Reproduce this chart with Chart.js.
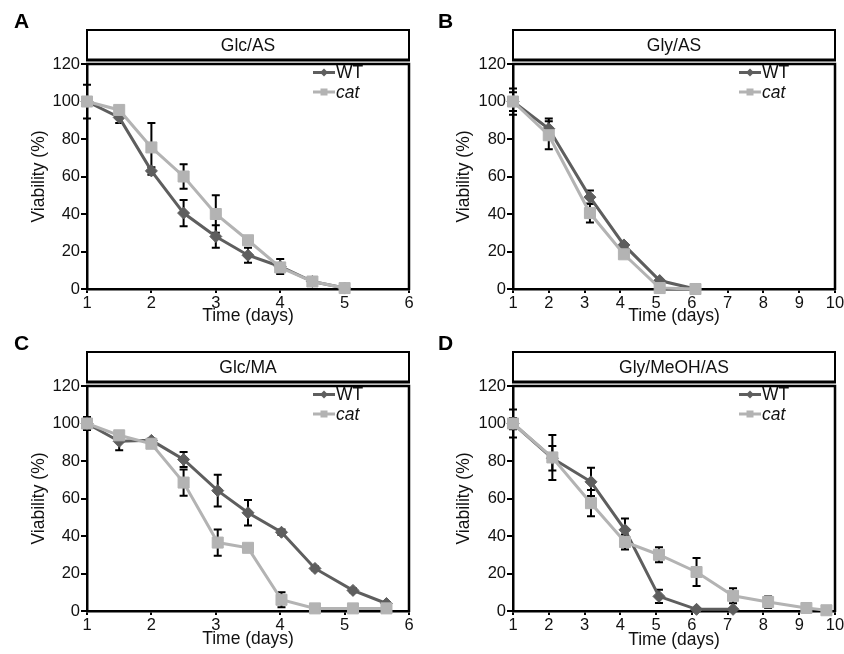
<!DOCTYPE html>
<html>
<head>
<meta charset="utf-8">
<script src="https://cdn.jsdelivr.net/npm/chart.js@4.4.1/dist/chart.umd.min.js"></script>
<style>
html,body{margin:0;padding:0;background:#fff;}
#wrap{position:relative;width:844px;height:654px;overflow:hidden;background:#fff;}
canvas{position:absolute;}
.lab{position:absolute;font:bold 21px "Liberation Sans",Arial,sans-serif;color:#000;line-height:21px;}
</style>
</head>
<body>
<div id="wrap">
  <canvas id="cA" width="422" height="327" style="left:0px;top:0px"></canvas>
  <canvas id="cB" width="422" height="327" style="left:422px;top:0px"></canvas>
  <canvas id="cC" width="422" height="327" style="left:0px;top:327px"></canvas>
  <canvas id="cD" width="422" height="327" style="left:422px;top:327px"></canvas>
  <div class="lab" style="left:14px;top:10px">A</div>
  <div class="lab" style="left:438px;top:10px">B</div>
  <div class="lab" style="left:14px;top:332px">C</div>
  <div class="lab" style="left:438px;top:332px">D</div>
</div>
<script>
// ---------- tick labels ----------
const yTicks = [0, 20, 40, 60, 80, 100, 120];
const xTicks6 = [1, 2, 3, 4, 5, 6];
const xTicks10 = [1, 2, 3, 4, 5, 6, 7, 8, 9, 10];
const seriesNames = ['WT', 'cat'];

// ---------- Panel A: Glc/AS ----------
const timeA = [1, 1.5, 2, 2.5, 3, 3.5, 4, 4.5, 5];
const wtA = [100, 91.5, 63, 40.5, 28, 18, 12, 4, 0.5];
const wtErrA = [9, 3, 2, 7, 6, 4, 4, 1, 0];
const catA = [100, 95.5, 75.5, 60, 40, 26, 11.5, 4, 0.5];
const catErrA = [2, 1.5, 13, 6.5, 10, 1.5, 1.5, 1, 0];

// ---------- Panel B: Gly/AS ----------
const timeB = [1, 2, 3.15, 4.1, 5.1, 6.1];
const wtB = [100, 85.5, 49, 23.5, 4.5, 0];
const wtErrB = [7, 5.5, 3.5, 1, 0.5, 0];
const catB = [100, 82, 40.5, 18.5, 0.5, 0];
const catErrB = [5, 7.5, 5, 1, 0.3, 0];

// ---------- Panel C: Glc/MA ----------
const timeC = [1, 1.5, 2, 2.5, 3.03, 3.5, 4.02, 4.54, 5.13, 5.65];
const wtC = [100, 90.5, 91, 80.8, 64.2, 52.4, 42, 22.7, 11, 4];
const wtErrC = [3.5, 4.7, 1, 4, 8.5, 6.8, 1.5, 1, 1, 0.5];
const catC = [100, 93.7, 89.2, 68.5, 36.5, 33.7, 6, 1.4, 1.4, 1.4];
const catErrC = [3, 2, 1.5, 7, 7, 1.5, 4, 0.5, 0.5, 0.5];

// ---------- Panel D: Gly/MeOH/AS ----------
const timeDwt = [1, 2.1, 3.18, 4.13, 5.08, 6.13, 7.15];
const wtD = [100, 81.5, 68.9, 43.3, 7.8, 0.9, 0.9];
const wtErrD = [7.5, 6.5, 7.5, 6, 3.5, 0.5, 0.5];
const timeDcat = [1, 2.1, 3.18, 4.13, 5.08, 6.13, 7.15, 8.13, 9.2, 9.76];
const catD = [100, 81.9, 57.5, 36.8, 30, 20.8, 8.1, 4.8, 1.6, 0.4];
const catErrD = [3, 12, 7, 4, 4, 7.5, 4, 3, 1, 0.5];

// ---------- styling ----------
const FONT = '"Liberation Sans", Arial, Helvetica, sans-serif';
const WT_COLOR = '#5e5e5e';
const CAT_COLOR = '#b3b3b3';
const TEXT = '#111';

const decoPlugin = {
  id: 'panelDeco',
  beforeDatasetsDraw(chart) {
    const ctx = chart.ctx, ys = chart.scales.y;
    ctx.save();
    ctx.strokeStyle = '#000';
    ctx.lineWidth = 2;
    chart.data.datasets.forEach((ds, di) => {
      const errs = ds.errorBars;
      if (!errs) return;
      const meta = chart.getDatasetMeta(di);
      meta.data.forEach((pt, i) => {
        const e = errs[i];
        if (!e || e < 0.8) return;
        const v = ds.data[i].y;
        const yT = ys.getPixelForValue(v + e);
        const yB = ys.getPixelForValue(Math.max(v - e, 0));
        const x = pt.x;
        ctx.beginPath();
        ctx.moveTo(x, yT); ctx.lineTo(x, yB);
        ctx.moveTo(x - 4, yT); ctx.lineTo(x + 4, yT);
        if (v - e > 0) { ctx.moveTo(x - 4, yB); ctx.lineTo(x + 4, yB); }
        ctx.stroke();
      });
    });
    ctx.restore();
  },
  afterDraw(chart, args, opts) {
    const ctx = chart.ctx, ca = chart.chartArea;
    ctx.save();
    ctx.strokeStyle = '#000';
    // plot frame top and right
    ctx.lineWidth = 2.5;
    ctx.beginPath();
    ctx.moveTo(ca.left - 1, ca.top);
    ctx.lineTo(ca.right, ca.top);
    ctx.lineTo(ca.right, ca.bottom + 1);
    ctx.stroke();
    // header strip
    const hTop = ca.top - 34, hBot = ca.top - 4;
    ctx.lineWidth = 2;
    ctx.beginPath();
    ctx.moveTo(ca.left, hBot + 1);
    ctx.lineTo(ca.left, hTop);
    ctx.lineTo(ca.right, hTop);
    ctx.lineTo(ca.right, hBot + 1);
    ctx.stroke();
    ctx.lineWidth = 3;
    ctx.beginPath();
    ctx.moveTo(ca.left - 1, hBot);
    ctx.lineTo(ca.right + 1, hBot);
    ctx.stroke();
    ctx.fillStyle = TEXT;
    ctx.font = '17.5px ' + FONT;
    ctx.textAlign = 'center';
    ctx.textBaseline = 'middle';
    ctx.fillText(opts.title, (ca.left + ca.right) / 2, (hTop + hBot) / 2 + 1);
    // legend
    const lx = ca.right - 96;
    chart.data.datasets.forEach((ds, k) => {
      const y = ca.top + 9.5 + k * 19.5;
      ctx.strokeStyle = ds.borderColor;
      ctx.lineWidth = 3;
      ctx.beginPath();
      ctx.moveTo(lx, y - 1);
      ctx.lineTo(lx + 22, y - 1);
      ctx.stroke();
      ctx.fillStyle = ds.borderColor;
      const cx = lx + 11, cy = y - 1;
      ctx.beginPath();
      if (ds.pointStyle === 'rectRot') {
        ctx.moveTo(cx, cy - 4); ctx.lineTo(cx + 4, cy); ctx.lineTo(cx, cy + 4); ctx.lineTo(cx - 4, cy);
      } else {
        ctx.rect(cx - 3.5, cy - 3.5, 7, 7);
      }
      ctx.closePath();
      ctx.fill();
      ctx.fillStyle = TEXT;
      ctx.textAlign = 'left';
      ctx.textBaseline = 'middle';
      ctx.font = (ds.label === 'cat' ? 'italic ' : '') + '17.5px ' + FONT;
      ctx.fillText(ds.label, lx + 23, y);
    });
    ctx.restore();
  }
};

function pts(xs, ys) { return xs.map((x, i) => ({ x: x, y: ys[i] })); }

function makePanel(id, cfg) {
  const g = cfg.geom;
  const W = 422, H = 327;
  new Chart(document.getElementById(id), {
    type: 'line',
    plugins: [decoPlugin],
    data: {
      datasets: [
        {
          label: seriesNames[0], data: pts(cfg.wtX, cfg.wt), errorBars: cfg.wtErr,
          borderColor: WT_COLOR, backgroundColor: WT_COLOR, borderWidth: 3,
          pointStyle: 'rectRot', pointRadius: 6, pointBorderWidth: 1,
          pointBackgroundColor: WT_COLOR, pointBorderColor: WT_COLOR,
          tension: 0, clip: false, order: 1
        },
        {
          label: seriesNames[1], data: pts(cfg.catX, cfg.cat), errorBars: cfg.catErr,
          borderColor: CAT_COLOR, backgroundColor: CAT_COLOR, borderWidth: 3,
          pointStyle: 'rect', pointRadius: 7.8, pointBorderWidth: 1,
          pointBackgroundColor: CAT_COLOR, pointBorderColor: CAT_COLOR,
          tension: 0, clip: false, order: 0
        }
      ]
    },
    options: {
      responsive: false,
      animation: false,
      devicePixelRatio: 1,
      layout: { padding: { left: 0, top: g.top, right: W - g.right, bottom: 0 } },
      plugins: {
        legend: { display: false },
        tooltip: { enabled: false },
        panelDeco: { title: cfg.title }
      },
      scales: {
        x: {
          type: 'linear', min: 1, max: cfg.xTicks[cfg.xTicks.length - 1],
          afterBuildTicks: (s) => { s.ticks = cfg.xTicks.map(v => ({ value: v })); },
          afterFit: (s) => { s.height = H - g.bottom; s.paddingLeft = 0; s.paddingRight = 0; },
          grid: { drawOnChartArea: false, drawTicks: true, tickLength: 4, color: '#000', lineWidth: 2 },
          border: { display: true, color: '#000', width: 2.5 },
          ticks: { color: TEXT, font: { family: FONT, size: 16.5 }, padding: 1, maxRotation: 0, autoSkip: false },
          title: { display: true, text: 'Time (days)', color: TEXT, font: { family: FONT, size: 17.5 }, padding: { top: 0, bottom: g.xTitlePad } }
        },
        y: {
          min: 0, max: 120,
          afterBuildTicks: (s) => { s.ticks = yTicks.map(v => ({ value: v })); },
          afterFit: (s) => { s.width = g.left; s.paddingTop = 0; s.paddingBottom = 0; },
          grid: { drawOnChartArea: false, drawTicks: true, tickLength: 6, color: '#000', lineWidth: 2 },
          border: { display: true, color: '#000', width: 2.5 },
          ticks: { color: TEXT, font: { family: FONT, size: 16.5 }, padding: 1 },
          title: { display: true, text: 'Viability (%)', color: TEXT, font: { family: FONT, size: 17.5 }, padding: { top: g.yTitlePad, bottom: 0 } }
        }
      }
    }
  });
}

makePanel('cA', { title: 'Glc/AS', xTicks: xTicks6, wtX: timeA, wt: wtA, wtErr: wtErrA, catX: timeA, cat: catA, catErr: catErrA,
  geom: { left: 87, right: 409, top: 64, bottom: 289, xTitlePad: 0, yTitlePad: 28.5 } });
makePanel('cB', { title: 'Gly/AS', xTicks: xTicks10, wtX: timeB, wt: wtB, wtErr: wtErrB, catX: timeB, cat: catB, catErr: catErrB,
  geom: { left: 91, right: 413, top: 64, bottom: 289, xTitlePad: 0, yTitlePad: 31.5 } });
makePanel('cC', { title: 'Glc/MA', xTicks: xTicks6, wtX: timeC, wt: wtC, wtErr: wtErrC, catX: timeC, cat: catC, catErr: catErrC,
  geom: { left: 87, right: 409, top: 59, bottom: 284, xTitlePad: 4, yTitlePad: 28.5 } });
makePanel('cD', { title: 'Gly/MeOH/AS', xTicks: xTicks10, wtX: timeDwt, wt: wtD, wtErr: wtErrD, catX: timeDcat, cat: catD, catErr: catErrD,
  geom: { left: 91, right: 413, top: 59, bottom: 284, xTitlePad: 3, yTitlePad: 31.5 } });
</script>
</body>
</html>
